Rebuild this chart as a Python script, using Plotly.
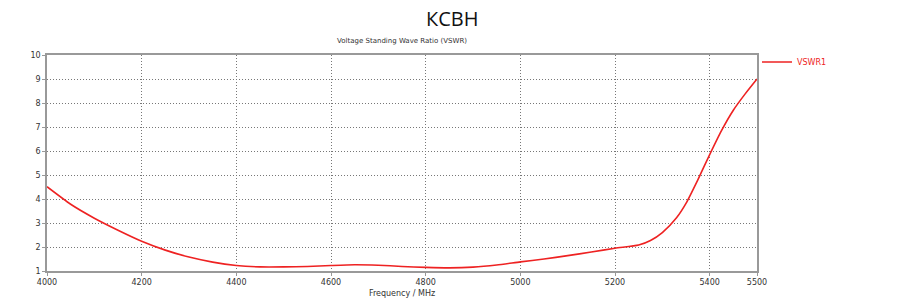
import plotly.graph_objects as go

freq_mhz = [4000, 4050, 4100, 4150, 4200, 4250, 4300, 4350, 4400, 4450, 4500, 4550, 4600, 4650, 4700, 4750,
            4800, 4850, 4900, 4950, 5000, 5050, 5100, 5150, 5200, 5250, 5275, 5300, 5330, 5350, 5375, 5400,
            5425, 5450, 5475, 5500]
vswr1 = [4.51, 3.78, 3.20, 2.70, 2.24, 1.87, 1.58, 1.37, 1.23, 1.17, 1.17, 1.19, 1.23, 1.26, 1.24, 1.19,
         1.15, 1.13, 1.16, 1.25, 1.38, 1.50, 1.64, 1.79, 1.95, 2.08, 2.27, 2.60, 3.22, 3.82, 4.80, 5.85,
         6.85, 7.70, 8.38, 9.00]

x_ticks = [4000, 4200, 4400, 4600, 4800, 5000, 5200, 5400, 5500]
y_ticks = [1, 2, 3, 4, 5, 6, 7, 8, 9, 10]

fig = go.Figure()
fig.add_trace(go.Scatter(x=freq_mhz, y=vswr1, mode="lines", name="VSWR1",
                         line=dict(color="#ee2222", width=1.6, shape="spline", smoothing=0.6)))

axis_common = dict(showline=True, linecolor="#999999", linewidth=1.5, mirror=True,
                   showgrid=True, gridcolor="#777777", griddash="1px,2px", gridwidth=1,
                   ticks="outside", ticklen=3, tickcolor="#999999", zeroline=False, automargin=False,
                   tickfont=dict(family="DejaVu Sans", size=8, color="#333333"))

fig.update_xaxes(range=[4000, 5500], tickvals=x_ticks, ticktext=[str(t) for t in x_ticks],
                 title=dict(text="Frequency / MHz", font=dict(family="DejaVu Sans", size=8, color="#333333"),
                            standoff=4), **axis_common)
fig.update_yaxes(range=[1, 10], tickvals=y_ticks, **axis_common)

fig.update_layout(
    width=912, height=304,
    margin=dict(l=47, r=155, t=55, b=33),
    paper_bgcolor="white", plot_bgcolor="white",
    showlegend=True,
    legend=dict(x=1.0, y=1.035, xanchor="left", yanchor="top",
                font=dict(family="DejaVu Sans", size=8, color="#ee2222"),
                bgcolor="rgba(0,0,0,0)", itemwidth=30),
    annotations=[
        dict(text="КСВН", xref="paper", yref="paper", x=(452 - 47) / 710, y=1, yshift=37,
             xanchor="center", yanchor="middle", showarrow=False,
             font=dict(family="Open Sans", size=20, color="#111111")),
        dict(text="Voltage Standing Wave Ratio (VSWR)", xref="paper", yref="paper", x=(402 - 47) / 710, y=1,
             yshift=14, xanchor="center", yanchor="middle", showarrow=False,
             font=dict(family="DejaVu Sans", size=7, color="#333333")),
    ],
)

fig.write_html("out.html", config={"displayModeBar": False},
               post_script="document.body.style.margin='0';document.body.style.overflow='hidden';")
